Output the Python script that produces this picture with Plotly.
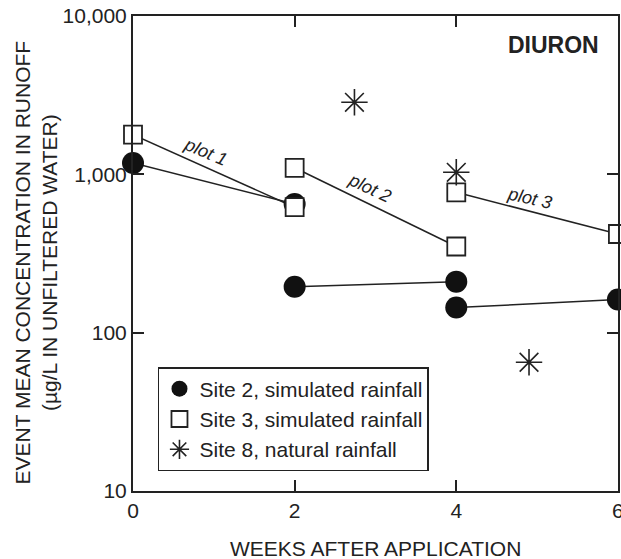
import math
import plotly.graph_objects as go

# ---- data ----
site2_weeks = [0, 2, 2, 4, 4, 6]
site2_conc = [1180, 650, 195, 210, 144, 162]
site3_weeks = [0, 2, 2, 4, 4, 6]
site3_conc = [1780, 620, 1100, 350, 770, 420]
site8_weeks = [2.74, 4.0, 4.9]
site8_conc = [2850, 1030, 65]
plot_names = ["plot 1", "plot 2", "plot 3"]
plot_label_weeks = [0.90, 2.93, 4.90]
plot_label_conc = [1377, 816, 705]
plot_label_angles = [23, 25, 13]
y_tickvals = [10, 100, 1000, 10000]
y_ticktext = ["10", "100", "1,000", "10,000"]
x_tickvals = [0, 2, 4, 6]
legend_names = ["Site 2, simulated rainfall", "Site 3, simulated rainfall",
                "Site 8, natural rainfall"]

FONT = "Liberation Sans, Arial, sans-serif"
INK = "#222222"


def segs(xs, ys):
    ox, oy = [], []
    for i in range(0, len(xs), 2):
        ox += [xs[i], xs[i + 1], None]
        oy += [ys[i], ys[i + 1], None]
    return ox, oy


fig = go.Figure()
for xs, ys in [(site2_weeks, site2_conc), (site3_weeks, site3_conc)]:
    lx, ly = segs(xs, ys)
    fig.add_trace(go.Scatter(x=lx, y=ly, mode="lines", showlegend=False,
                             line=dict(color=INK, width=1.5),
                             cliponaxis=False, hoverinfo="skip"))

fig.add_trace(go.Scatter(x=site2_weeks, y=site2_conc, mode="markers",
                         name=legend_names[0], legendgroup="a",
                         marker=dict(symbol="circle", size=22, color="#111111",
                                     line=dict(width=0)),
                         cliponaxis=False))
fig.add_trace(go.Scatter(x=site3_weeks, y=site3_conc, mode="markers",
                         name=legend_names[1], legendgroup="b",
                         marker=dict(symbol="square", size=18, color="white",
                                     line=dict(width=1.8, color=INK)),
                         cliponaxis=False))
fig.add_trace(go.Scatter(x=site8_weeks, y=site8_conc, mode="markers",
                         name=legend_names[2], legendgroup="c",
                         marker=dict(symbol="asterisk-open", size=22, color=INK,
                                     line=dict(width=1.6, color=INK)),
                         cliponaxis=False))

for name, wx, cy, ang in zip(plot_names, plot_label_weeks, plot_label_conc, plot_label_angles):
    fig.add_annotation(x=wx, y=math.log10(cy), text=f"<i>{name}</i>", showarrow=False,
                       textangle=ang, font=dict(size=18, color=INK, family=FONT))

fig.add_annotation(xref="paper", yref="paper", x=0.965, y=0.94, xanchor="right",
                   yanchor="middle", text="<b>DIURON</b>", showarrow=False,
                   font=dict(size=23, color=INK, family=FONT))

fig.add_annotation(xref="paper", yref="paper", x=0.5, y=-0.122, xanchor="center",
                   yanchor="middle", text="WEEKS AFTER APPLICATION", showarrow=False,
                   font=dict(size=21, color=INK, family=FONT))
fig.add_annotation(xref="paper", yref="paper", x=-0.202, y=0.481, xanchor="center",
                   yanchor="middle", textangle=-90,
                   text="EVENT MEAN CONCENTRATION IN RUNOFF<br>(µg/L IN UNFILTERED WATER)",
                   showarrow=False,
                   font=dict(size=21, color=INK, family=FONT))

fig.update_layout(
    xaxis=dict(range=[0, 6.001], tickmode="array", tickvals=x_tickvals,
               ticks="inside", ticklen=11, tickwidth=1.5, tickcolor=INK,
               showline=True, linecolor=INK, linewidth=2, mirror="ticks",
               showgrid=False, zeroline=False, ticklabeloverflow="allow",
               automargin=False, tickfont=dict(size=21, color=INK, family=FONT)),
    yaxis=dict(type="log", range=[1, 4], tickmode="array", tickvals=y_tickvals,
               ticktext=y_ticktext, ticks="inside", ticklen=11, tickwidth=1.5,
               tickcolor=INK, showline=True, linecolor=INK, linewidth=2,
               mirror="ticks", showgrid=False, zeroline=False, automargin=False,
               tickfont=dict(size=21, color=INK, family=FONT)),
    width=621, height=559,
    margin=dict(l=133, r=3, t=16, b=68, autoexpand=False),
    paper_bgcolor="white", plot_bgcolor="white",
    font=dict(family=FONT, color=INK),
    legend=dict(x=0.0515, y=0.261, xanchor="left", yanchor="top",
                bgcolor="white", bordercolor=INK, borderwidth=1.5,
                font=dict(size=21, color=INK, family=FONT),
                tracegroupgap=0, traceorder="grouped"),
    showlegend=True,
)

fig.write_html("out.html")
